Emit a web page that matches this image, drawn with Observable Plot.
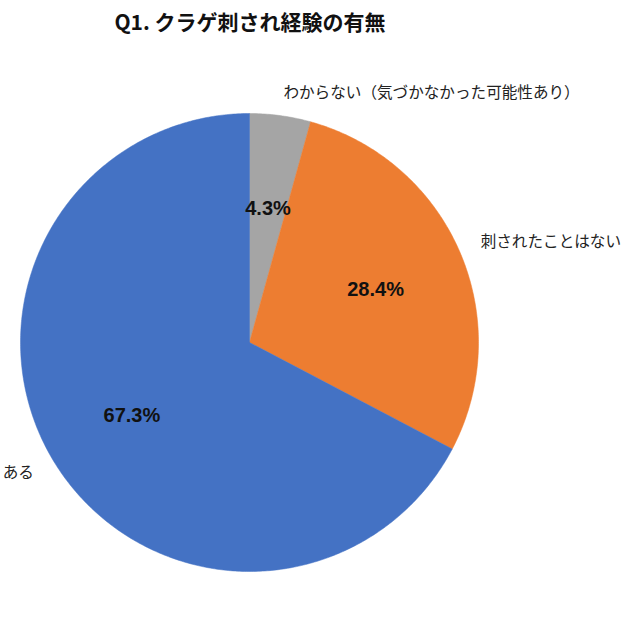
<!DOCTYPE html>
<html>
<head>
<meta charset="utf-8">
<script src="https://cdn.jsdelivr.net/npm/d3@7"></script>
<script src="https://cdn.jsdelivr.net/npm/@observablehq/plot@0.6"></script>
<style>
  body { margin: 0; background: #fff; font-family: "Noto Sans CJK JP", "Noto Sans", sans-serif; }
  #title { width: 500px; height: 45px; line-height: 42px; text-align: center; font-size: 21px; font-weight: bold; color: #111; }
</style>
</head>
<body>
<div id="title">Q1. クラゲ刺され経験の有無</div>
<div id="chart"></div>
<script>
const categories = ["わからない（気づかなかった可能性あり）", "刺されたことはない", "ある"];
const values = [4.3, 28.4, 67.3];
const valueLabels = ["4.3%", "28.4%", "67.3%"];
const colors = ["#A5A5A5", "#ED7D31", "#4472C4"];

const W = 640, H = 595;
const R = 229;
const cx = 249, cy = 297;

const pie = d3.pie().sort(null).value(d => d.value);
const arcs = pie(categories.map((c, i) => ({label: c, value: values[i], text: valueLabels[i]})));

// polygon outline of each slice (angle measured clockwise from 12 o'clock)
const pts = [];
arcs.forEach(a => {
  const n = Math.max(4, Math.ceil((a.endAngle - a.startAngle) / 0.01));
  pts.push({label: a.data.label, x: 0, y: 0});
  for (let k = 0; k <= n; k++) {
    const t = a.startAngle + (a.endAngle - a.startAngle) * k / n;
    pts.push({label: a.data.label, x: R * Math.sin(t), y: R * Math.cos(t)});
  }
  pts.push({label: a.data.label, x: 0, y: 0});
});

const mid = a => (a.startAngle + a.endAngle) / 2;
const inner = arcs.map(a => ({text: a.data.text, x: 0.6 * R * Math.sin(mid(a)), y: 0.6 * R * Math.cos(mid(a))}));
const outer = arcs.map(a => ({text: a.data.label, x: 1.1 * R * Math.sin(mid(a)), y: 1.1 * R * Math.cos(mid(a)), anchor: Math.sin(mid(a)) >= 0 ? "start" : "end"}));

const plot = Plot.plot({
  width: W, height: H,
  margin: 0,
  style: {fontFamily: '"Noto Sans CJK JP", sans-serif', background: "#fff"},
  x: {domain: [-cx, W - cx], axis: null},
  y: {domain: [-(H - cy), cy], axis: null},
  color: {domain: categories, range: colors},
  marks: [
    Plot.line(pts, {x: "x", y: "y", z: "label", fill: "label", stroke: "label", strokeWidth: 0.5, curve: "linear"}),
    Plot.text(inner, {x: "x", y: "y", text: "text", fontSize: 20, fontWeight: "bold", fill: "#111", dy: 2, fontFamily: '"Liberation Sans", Arial, sans-serif'}),
    Plot.text(outer.filter(d => d.anchor === "start"), {x: "x", y: "y", text: "text", fontSize: 15.6, fill: "#222", textAnchor: "start"}),
    Plot.text(outer.filter(d => d.anchor === "end"), {x: "x", y: "y", text: "text", fontSize: 15.6, fill: "#222", textAnchor: "end"})
  ]
});
document.getElementById("chart").appendChild(plot);
</script>
</body>
</html>
